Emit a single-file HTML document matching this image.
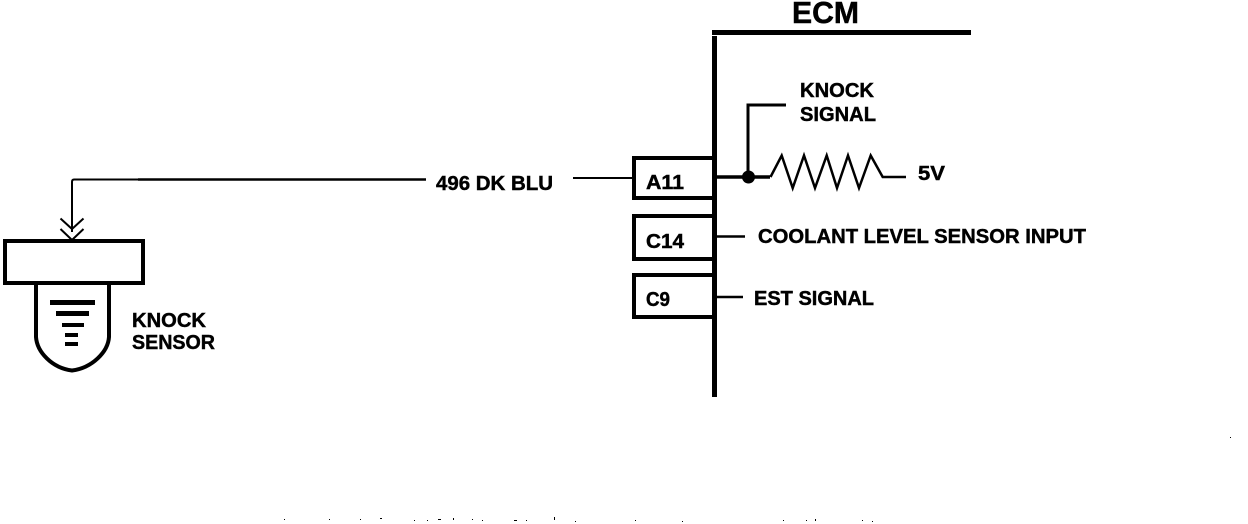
<!DOCTYPE html>
<html>
<head>
<meta charset="utf-8">
<style>
html,body{margin:0;padding:0;background:#fff;width:1248px;height:524px;overflow:hidden}
svg{display:block}
text{font-family:"Liberation Sans",sans-serif;font-weight:bold;fill:#000;font-size:20px;stroke:#000;stroke-width:.45px}
</style>
</head>
<body>
<svg width="1248" height="524" viewBox="0 0 1248 524" xmlns="http://www.w3.org/2000/svg">
<rect width="1248" height="524" fill="#fff"/>

<!-- Sensor wire -->
<path d="M138 179.500H74Q72 179.500 72 182V232" fill="none" stroke="#000" stroke-width="2"/>
<path d="M138 179.500H426" fill="none" stroke="#000" stroke-width="2.500"/>
<path d="M60.500 218.500L72 229L83.500 218.500M60.500 229L72 240L83.500 229" fill="none" stroke="#000" stroke-width="2"/>
<path d="M573 178H633" fill="none" stroke="#000" stroke-width="2"/>

<!-- Sensor -->
<path d="M36 283V337C37 352 52 368 72 370.500C92 368 108 352 109 337V283" fill="none" stroke="#000" stroke-width="4"/>
<path d="M3 239H145V285H3Z M7 243V281H141V243Z" fill="#000" fill-rule="evenodd" shape-rendering="crispEdges"/>
<g fill="#000" shape-rendering="crispEdges">
<rect x="50" y="300" width="45" height="5"/>
<rect x="56" y="311" width="33" height="5"/>
<rect x="62" y="323" width="22" height="4"/>
<rect x="65" y="333" width="13" height="4"/>
<rect x="65" y="342" width="13" height="4"/>
</g>
<text x="132" y="327" textLength="74" lengthAdjust="spacingAndGlyphs">KNOCK</text>
<text x="132" y="349" textLength="83" lengthAdjust="spacingAndGlyphs">SENSOR</text>

<!-- ECM frame -->
<g fill="#000" shape-rendering="crispEdges">
<rect x="712" y="30" width="259" height="5"/>
<rect x="712" y="36" width="5" height="361"/>
</g>
<text x="792" y="23" style="font-size:31px;stroke-width:.5px" textLength="67" lengthAdjust="spacingAndGlyphs">ECM</text>

<!-- Connectors -->
<g fill="none" stroke="#000" stroke-width="4" shape-rendering="crispEdges">
<path d="M715 158H634V198H715"/>
<path d="M715 216H634V259H715"/>
<path d="M715 275H634V317H715"/>
</g>
<text x="646" y="189" textLength="38" lengthAdjust="spacingAndGlyphs">A11</text>
<text x="646" y="248" textLength="38" lengthAdjust="spacingAndGlyphs">C14</text>
<text x="646" y="306" textLength="24" lengthAdjust="spacingAndGlyphs">C9</text>

<!-- Knock signal / resistor -->
<path d="M717 177H770" fill="none" stroke="#000" stroke-width="3.500"/>
<path d="M770.500 177L781.700 155.500L792.700 188L804 155.500L815 188L826.700 155.500L837 188L848 155.500L859 188L870.700 155.500L882.700 177H906" fill="none" stroke="#000" stroke-width="2.500"/>
<path d="M748 177V105H786" fill="none" stroke="#000" stroke-width="3"/>
<circle cx="748.500" cy="177" r="6.500" fill="#000"/>

<text x="800" y="97" textLength="74" lengthAdjust="spacingAndGlyphs">KNOCK</text>
<text x="800" y="121" textLength="76" lengthAdjust="spacingAndGlyphs">SIGNAL</text>
<text x="918" y="180" textLength="27" lengthAdjust="spacingAndGlyphs">5V</text>

<path d="M717 236.500H745M717 297H743" fill="none" stroke="#000" stroke-width="2.500"/>
<text x="758" y="243" textLength="328" lengthAdjust="spacingAndGlyphs">COOLANT LEVEL SENSOR INPUT</text>
<text x="754" y="305" textLength="120" lengthAdjust="spacingAndGlyphs">EST SIGNAL</text>
<text x="436" y="190" textLength="117" lengthAdjust="spacingAndGlyphs">496 DK BLU</text>

<!-- Scan specks -->
<g fill="#000" shape-rendering="crispEdges">
<rect x="1230" y="437" width="1" height="1"/>
<rect x="284" y="519" width="1" height="1"/><rect x="329" y="519" width="1" height="1"/>
<rect x="360" y="519" width="1" height="1"/><rect x="380" y="518" width="2" height="1"/>
<rect x="414" y="520" width="1" height="1"/><rect x="427" y="520" width="1" height="1"/>
<rect x="438" y="519" width="3" height="1"/><rect x="453" y="518" width="1" height="2"/>
<rect x="472" y="519" width="1" height="1"/><rect x="482" y="520" width="1" height="1"/>
<rect x="514" y="520" width="3" height="1"/><rect x="526" y="520" width="1" height="1"/>
<rect x="554" y="517" width="1" height="3"/><rect x="575" y="521" width="1" height="1"/>
<rect x="635" y="520" width="1" height="1"/><rect x="682" y="521" width="1" height="1"/>
<rect x="783" y="520" width="1" height="1"/><rect x="806" y="520" width="1" height="1"/>
<rect x="815" y="519" width="1" height="2"/><rect x="862" y="520" width="1" height="1"/>
<rect x="872" y="521" width="1" height="1"/>
</g>
</svg>
</body>
</html>
